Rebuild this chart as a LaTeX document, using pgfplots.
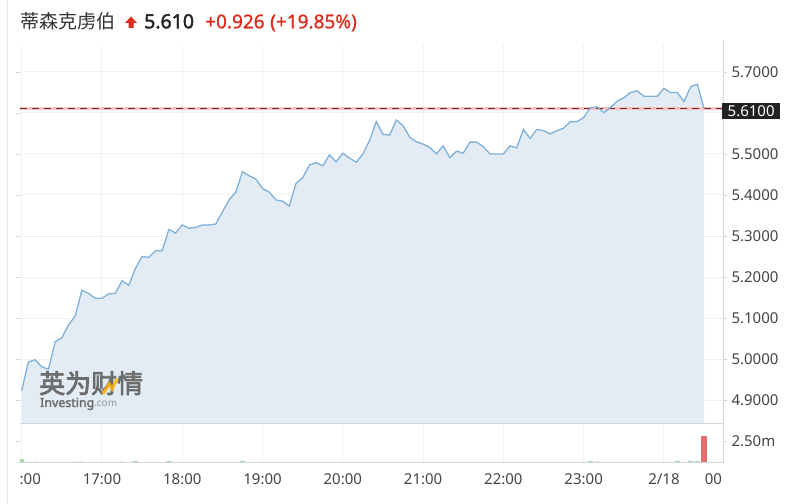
\documentclass[border=0pt]{standalone}
\usepackage{fontspec}
\setmainfont{Noto Sans}
\newfontfamily\boldf{Noto Sans}[FakeBold=2.2]
\newfontfamily\semib{Noto Sans}[FakeBold=1.0]
\newfontfamily\cjk{Noto Sans CJK SC}
\newfontfamily\cjkb{Noto Sans CJK SC}[FakeBold=3]
\usepackage{pgfplots}
\usepackage{pgfplotstable}
\pgfplotsset{compat=1.18}
\definecolor{linec}{HTML}{7FB1DA}
\definecolor{fillc}{HTML}{E3ECF5}
\definecolor{gridc}{HTML}{F2F2F2}
\definecolor{axc}{HTML}{D3D7DC}
\definecolor{txt}{HTML}{444444}
\definecolor{upred}{HTML}{DD2C1F}
\definecolor{volg}{HTML}{A3DAB1}
\definecolor{volr}{HTML}{F2A6A6}
\definecolor{volR}{HTML}{E46E6E}
\definecolor{dashc}{HTML}{7A2525}
\definecolor{pinkc}{HTML}{F7C3C3}
\definecolor{logoc}{HTML}{646464}

\pgfplotstableread{
i p
0 4.923
1 4.993
2 4.998
3 4.981
4 4.975
5 5.042
6 5.052
7 5.083
8 5.105
9 5.168
10 5.160
11 5.148
12 5.148
13 5.159
14 5.160
15 5.191
16 5.180
17 5.221
18 5.250
19 5.248
20 5.264
21 5.264
22 5.316
23 5.307
24 5.327
25 5.319
26 5.321
27 5.327
28 5.327
29 5.329
30 5.359
31 5.388
32 5.407
33 5.457
34 5.447
35 5.439
36 5.416
37 5.407
38 5.388
39 5.385
40 5.373
41 5.428
42 5.442
43 5.473
44 5.479
45 5.471
46 5.498
47 5.481
48 5.502
49 5.490
50 5.480
51 5.500
52 5.533
53 5.579
54 5.548
55 5.546
56 5.583
57 5.569
58 5.541
59 5.530
60 5.524
61 5.516
62 5.500
63 5.520
64 5.491
65 5.507
66 5.502
67 5.529
68 5.529
69 5.518
70 5.500
71 5.500
72 5.500
73 5.520
74 5.515
75 5.560
76 5.538
77 5.560
78 5.557
79 5.549
80 5.557
81 5.563
82 5.579
83 5.579
84 5.589
85 5.613
86 5.615
87 5.601
88 5.613
89 5.629
90 5.637
91 5.650
92 5.654
93 5.641
94 5.641
95 5.641
96 5.660
97 5.650
98 5.650
99 5.628
100 5.664
101 5.670
102 5.611
}\price

\pgfplotstableread{
i v
0 0.45
1 0.17
2 0.17
5 0.08
6 0.08
7 0.08
8 0.17
9 0.17
14 0.11
15 0.17
16 0.11
17 0.23
18 0.11
22 0.23
23 0.11
24 0.11
26 0.11
27 0.11
29 0.08
30 0.08
31 0.08
32 0.11
33 0.23
41 0.11
42 0.11
43 0.11
46 0.11
48 0.11
51 0.08
52 0.08
53 0.08
63 0.11
65 0.11
75 0.11
77 0.11
82 0.11
85 0.23
86 0.17
88 0.11
89 0.11
91 0.11
94 0.11
96 0.11
98 0.23
100 0.23
101 0.23
}\volgreen

\pgfplotstableread{
i v
3 0.11
4 0.11
10 0.11
11 0.11
19 0.11
25 0.11
34 0.11
35 0.11
36 0.11
39 0.11
40 0.11
47 0.11
54 0.11
55 0.11
56 0.11
58 0.11
60 0.11
64 0.11
83 0.11
87 0.11
99 0.11
}\volred

\pgfplotstableread{
i v
102 3.10
}\vollast

\begin{document}
\begin{tikzpicture}[x=1bp,y=1bp]
\useasboundingbox (0,0) rectangle (792,504);
% left border line
\draw[color=axc!60, line width=0.8bp] (7,0) -- (7,504);

\begin{axis}[
  at={(20bp,80.5bp)}, anchor=south west, scale only axis,
  width=703bp, height=378.5bp,
  xmin=-0.254, xmax=104.83, ymin=4.8427, ymax=5.7659,
  axis line style={draw=none},
  xtick={0,12,24,36,48,60,72,84,96}, xticklabels={},
  xtick style={draw=none},
  ytick={4.9,5.0,5.1,5.2,5.3,5.4,5.5,5.6,5.7},
  yticklabels={4.9000,5.0000,5.1000,5.2000,5.3000,5.4000,5.5000,{},5.7000},
  yticklabel pos=right,
  major tick length=4bp, tick align=outside,
  ytick style={draw=axc, line width=0.8bp},
  grid=major, major grid style={draw=gridc, line width=1bp},
  yticklabel style={font=\fontsize{15bp}{15bp}\selectfont, text=txt, xshift=1bp},
]
\addplot[fill=fillc, draw=none] table[x=i,y=p] {\price} \closedcycle;
\addplot[pinkc, line width=2.8bp] coordinates {(-1,5.61) (106,5.61)};
\addplot[dashc, line width=1.1bp, dash pattern=on 7bp off 5bp] coordinates {(-0.254,5.61) (106,5.61)};
\addplot[linec, line width=1.3bp] table[x=i,y=p] {\price};
\end{axis}

\begin{axis}[
  at={(20bp,41bp)}, anchor=south west, scale only axis,
  width=703bp, height=39.5bp,
  xmin=-0.254, xmax=104.83, ymin=0, ymax=4.49,
  axis line style={draw=none},
  xtick={0,12,24,36,48,60,72,84,96},
  xticklabels={\phantom{16}:00,17:00,18:00,19:00,20:00,21:00,22:00,23:00,2/18},
  extra x ticks={103.4}, extra x tick labels={00},
  extra x tick style={grid=none},
  xtick style={draw=none},
  xmajorgrids, major grid style={draw=gridc, line width=1bp},
  ytick={2.5}, yticklabels={2.50m}, yticklabel pos=right,
  major tick length=4bp, tick align=outside,
  ytick style={draw=axc, line width=0.8bp},
  xticklabel style={font=\fontsize{15bp}{15bp}\selectfont, text=txt, yshift=-3bp},
  yticklabel style={font=\fontsize{15bp}{15bp}\selectfont, text=txt, xshift=1bp},
]
\addplot[ybar, bar width=5bp, bar shift=0pt, fill=volg, draw=none] table[x=i,y=v] {\volgreen};
\addplot[ybar, bar width=5bp, bar shift=0pt, fill=volr, draw=none] table[x=i,y=v] {\volred};
\addplot[ybar, bar width=5.5bp, bar shift=0pt, fill=volR, draw=none] table[x=i,y=v] {\vollast};
\end{axis}

% panel lines
\draw[color=axc, line width=1bp] (20,80.5) -- (723,80.5);
\draw[color=axc, line width=1bp] (18,41) -- (723,41);
\draw[color=axc, line width=1bp] (723,464) -- (723,41);

% current price box
\node[fill=black!87, text=white, anchor=west, inner xsep=5.5bp, inner ysep=0pt,
  minimum height=16.5bp, text height=10.8bp, text depth=0pt,
  font=\fontsize{15bp}{15bp}\selectfont] at (722,393) {5.6100};

% watermark
\node[anchor=base west, inner sep=0pt, text=logoc, opacity=0.9,
  font=\cjkb\fontsize{26bp}{26bp}\selectfont] at (39,111) {英为财情};
\draw[color=orange!60!yellow, line width=3bp, opacity=0.85] (103,110) -- (109,120) -- (112,115) -- (117,125);
\node[anchor=base west, inner sep=0pt, text=logoc, opacity=0.9,
  font=\boldf\fontsize{12.4bp}{12.4bp}\selectfont] at (40,97) {Investing\fontsize{10bp}{10bp}\normalfont\color{logoc!75}.com};

% title
\node[anchor=base west, inner sep=0pt, text=black!80, font=\cjk\fontsize{19bp}{19bp}\selectfont] at (20.5,475.5) {蒂森克虏伯};
\fill[upred] (125,481) -- (131,487.5) -- (137,481) -- (133.5,481) -- (133.5,476) -- (128.5,476) -- (128.5,481) -- cycle;
\node[anchor=base west, inner sep=0pt, text=black!85, font=\boldf\fontsize{19.5bp}{19.5bp}\selectfont] at (144,475.7) {5.610};
\node[anchor=base west, inner sep=0pt, text=upred, font=\semib\fontsize{19bp}{19bp}\selectfont] at (205,475.7) {+0.926};
\node[anchor=base west, inner sep=0pt, text=upred, font=\semib\fontsize{19bp}{19bp}\selectfont] at (270,475.7) {(+19.85\%)};
\end{tikzpicture}
\end{document}
